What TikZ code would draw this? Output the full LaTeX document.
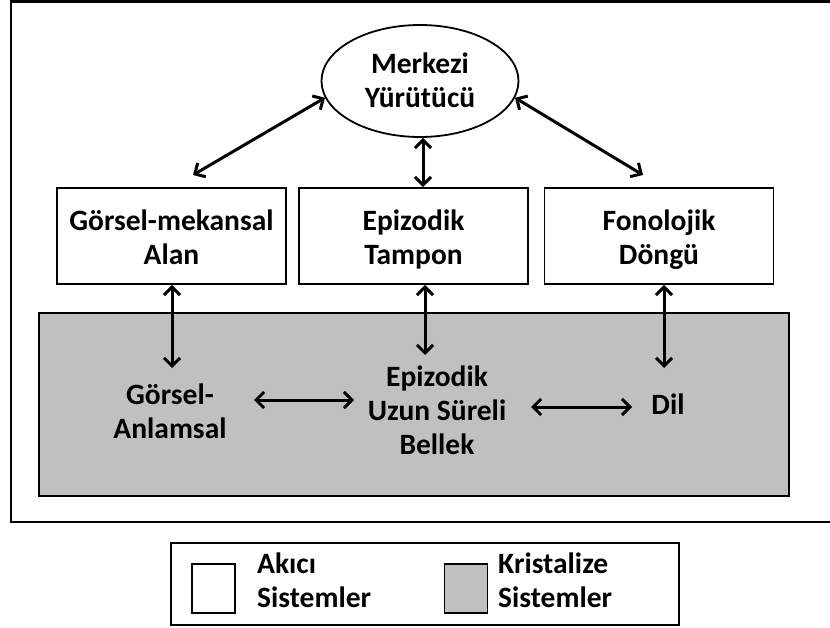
\documentclass[tikz,border=0pt]{standalone}
\usepackage{fontspec}
\setmainfont{Carlito}
\usetikzlibrary{arrows.meta,shapes.geometric,calc}
\definecolor{crys}{RGB}{192,192,192}
\begin{document}
\begin{tikzpicture}[x=1pt,y=-1pt,
  lbl/.style={font=\fontsize{29.5}{34}\selectfont\bfseries, align=center, inner sep=0pt},
  fluid/.style={draw, line width=1.8pt, fill=white, minimum width=229pt, minimum height=96pt, inner sep=0pt},
  arr/.style={line width=3pt, {Straight Barb[length=8pt,width=16pt,line width=3pt]}-{Straight Barb[length=8pt,width=16pt,line width=3pt]}},
  swatch/.style={draw, line width=1.8pt, minimum width=43pt, minimum height=49pt, inner sep=0pt}]
\useasboundingbox (0,0) rectangle (830,628);
\clip (0,0) rectangle (830,628);
% outer frame
\draw[line width=2.2pt] (11,1.5) rectangle (850,522);
% central executive
\node[ellipse, draw, line width=1.8pt, fill=white, minimum width=197pt, minimum height=112pt, inner sep=0pt] (mk) at (420,81) {};
\node[lbl] (mkt) at (420,83.5) {\strut Merkezi\\Yürütücü\strut};
% fluid boxes
\node[fluid] (gm) at (171.5,236) {};
\node[fluid] (ep) at (413.5,236) {};
\node[fluid] (fo) at (659,236) {};
\node[lbl] (gmt) at (171.5,240.5) {\strut Görsel-mekansal\\Alan\strut};
\node[lbl] (ept) at (413.5,240.5) {\strut Epizodik\\Tampon\strut};
\node[lbl] (fot) at (659,240.5) {\strut Fonolojik\\Döngü\strut};
% crystallized area
\node[draw, line width=1.8pt, fill=crys, minimum width=750pt, minimum height=183pt, inner sep=0pt] (big) at (414,404.5) {};
\node[lbl] (ga) at (170,414.5) {\strut Görsel-\\Anlamsal\strut};
\node[lbl] (eu) at (437,413.5) {\strut Epizodik\\Uzun Süreli\\Bellek\strut};
\node[lbl] (dil) at (668,408) {\strut Dil\strut};
% free ends
\coordinate (gmtop) at (193,175);
\coordinate (fotop) at (643,175);
\coordinate (gaup) at (172,368);
\coordinate (euup) at (425,355);
\coordinate (dilup) at (664,368);
\coordinate (h1a) at (254,400);
\coordinate (h1b) at (354,400);
\coordinate (h2a) at (531,407);
\coordinate (h2b) at (632,407);
% connectors
\draw[arr] (gmtop) -- (mk.190);
\draw[arr] (mk.-10) -- (fotop);
\draw[arr] ([xshift=3pt]mk.south) -- ([xshift=3pt]mk.south |- ep.north);
\draw[arr] (gm.south -| gaup) -- (gaup);
\draw[arr] (ep.south -| euup) -- (euup);
\draw[arr] (fo.south -| dilup) -- (dilup);
\draw[arr] (h1a) -- (h1b);
\draw[arr] (h2a) -- (h2b);
% legend
\node[draw, line width=1.8pt, minimum width=508pt, minimum height=82pt, inner sep=0pt] (leg) at (425,584) {};
\node[swatch, fill=white] (sw1) at (213.5,588.5) {};
\node[swatch, fill=crys] (sw2) at (466,588.5) {};
\node[lbl, align=left, anchor=west] (t1) at (257,584) {\strut Akıcı\\Sistemler\strut};
\node[lbl, align=left, anchor=west] (t2) at (498,584) {\strut Kristalize\\Sistemler\strut};
\end{tikzpicture}
\end{document}
